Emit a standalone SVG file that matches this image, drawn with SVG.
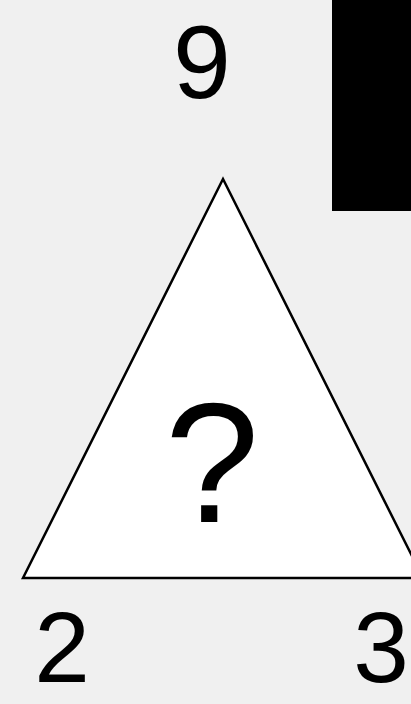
<svg xmlns="http://www.w3.org/2000/svg" width="411" height="704" viewBox="0 0 411 704">
<style>
.lbl{font-family:"Liberation Sans","DejaVu Sans",sans-serif;fill:#000;text-anchor:middle;font-weight:normal}
</style>
<rect x="0" y="0" width="411" height="704" fill="#f0f0f0"/>
<g id="black-box"><rect x="332" y="0" width="79" height="211" fill="#000"/></g>
<g id="triangle">
<polygon points="223,179 23,578 423,578" fill="#fff" stroke="#000" stroke-width="2.5" stroke-linejoin="miter"/>
<text class="lbl" x="212" y="522" font-size="170">?</text>
</g>
<g id="top-label"><text class="lbl" x="202" y="98" font-size="104">9</text></g>
<g id="left-label"><text class="lbl" x="62" y="682" font-size="100">2</text></g>
<g id="right-label"><text class="lbl" x="381" y="682" font-size="100">3</text></g>
</svg>
